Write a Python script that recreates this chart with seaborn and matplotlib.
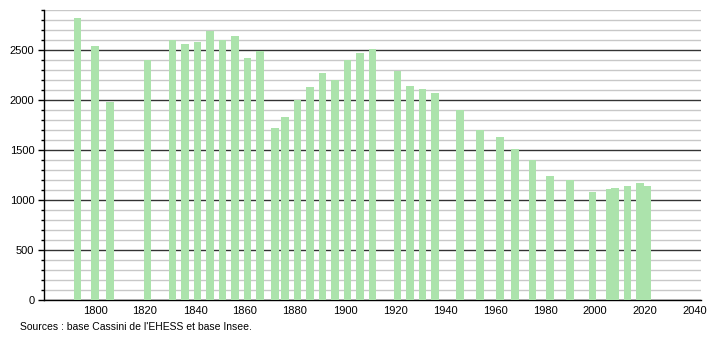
import matplotlib
matplotlib.use("Agg")
import matplotlib.pyplot as plt
from matplotlib.ticker import MultipleLocator
import seaborn as sns
import pandas as pd

years = [1793, 1800, 1806, 1821, 1831, 1836, 1841, 1846, 1851, 1856, 1861, 1866,
         1872, 1876, 1881, 1886, 1891, 1896, 1901, 1906, 1911, 1921, 1926, 1931,
         1936, 1946, 1954, 1962, 1968, 1975, 1982, 1990, 1999, 2006, 2008, 2013,
         2018, 2021]
population = [2820, 2540, 1980, 2400, 2600, 2560, 2580, 2693, 2600, 2640, 2420, 2493,
              1720, 1830, 2000, 2130, 2270, 2200, 2400, 2473, 2510, 2293, 2140, 2110,
              2073, 1897, 1700, 1630, 1510, 1397, 1240, 1197, 1080, 1113, 1125, 1140,
              1167, 1140]
x_ticks = [1800, 1820, 1840, 1860, 1880, 1900, 1920, 1940, 1960, 1980, 2000, 2020, 2040]
y_ticks = [0, 500, 1000, 1500, 2000, 2500]
source_text = "Sources : base Cassini de l'EHESS et base Insee."

df = pd.DataFrame({"year": years, "pop": population})

sns.set_style("white")
plt.rcParams["font.family"] = ["Liberation Sans", "DejaVu Sans"]
plt.rcParams["text.color"] = "black"
plt.rcParams["xtick.color"] = "black"
plt.rcParams["ytick.color"] = "black"

fig = plt.figure(figsize=(7.1, 3.4), dpi=100)
ax = fig.add_axes([44 / 710, 40 / 340, 657 / 710, 290 / 340])

sns.barplot(data=df, x="year", y="pop", native_scale=True, width=1.5,
            color="#ace3ac", saturation=1, ax=ax, zorder=3,
            edgecolor="none", linewidth=0)

ax.set_xlim(1779.6, 2042.4)
ax.set_ylim(0, 2900)
ax.set_xticks(x_ticks)
ax.set_xticklabels([str(t) for t in x_ticks])
ax.set_yticks(y_ticks)
ax.yaxis.set_minor_locator(MultipleLocator(100))
ax.set_axisbelow(True)
ax.grid(which="major", axis="y", color="#333333", linewidth=1, zorder=0)
ax.grid(which="minor", axis="y", color="#c8c8c8", linewidth=1, zorder=0)
ax.set_xlabel("")
ax.set_ylabel("")

for s in ["top", "right"]:
    ax.spines[s].set_visible(False)
ax.spines["left"].set_color("black")
ax.spines["bottom"].set_color("black")
ax.spines["left"].set_linewidth(1)
ax.spines["bottom"].set_linewidth(1)

ax.tick_params(axis="y", which="major", length=4, width=1, color="black",
               labelcolor="black", labelsize=8, pad=3, left=True)
ax.tick_params(axis="y", which="minor", length=2, width=1, color="black", left=True)
ax.tick_params(axis="x", which="both", length=0, labelsize=8, pad=4, labelcolor="black")

fig.text(20 / 710, 1 - 327 / 340, source_text, fontsize=7.5, va="center", ha="left",
         color="black")

fig.savefig("out.png", dpi=100)
